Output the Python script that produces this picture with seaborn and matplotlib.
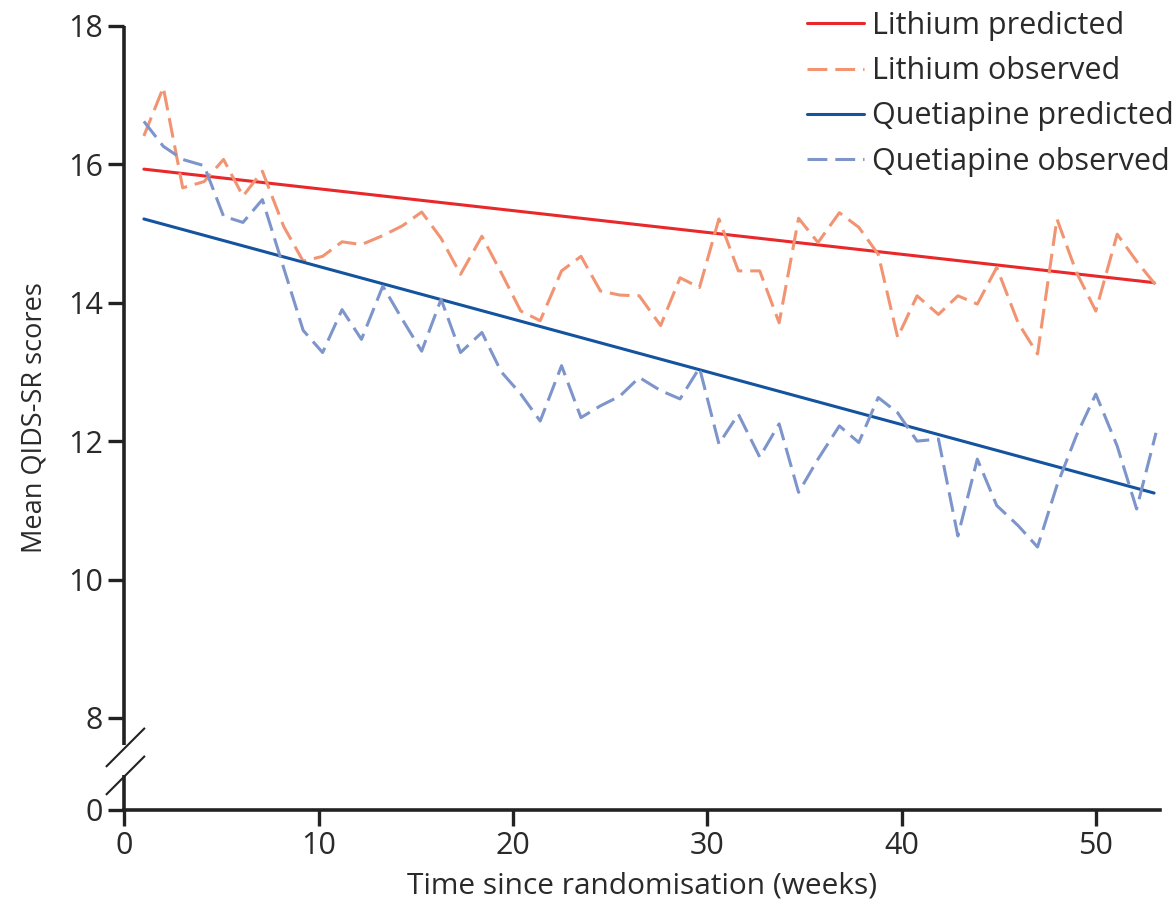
import numpy as np
import pandas as pd
import matplotlib
matplotlib.use("Agg")
import matplotlib.pyplot as plt
import seaborn as sns

# ---- data ----
time_weeks = [1.0, 2.0, 3.0, 4.1, 5.1, 6.1, 7.1, 8.2, 9.2, 10.2, 11.2, 12.2, 13.3,
              14.3, 15.3, 16.3, 17.3, 18.4, 19.4, 20.4, 21.4, 22.5, 23.5, 24.5, 25.5,
              26.5, 27.6, 28.6, 29.6, 30.6, 31.6, 32.7, 33.7, 34.7, 35.7, 36.8, 37.8,
              38.8, 39.8, 40.8, 41.9, 42.9, 43.9, 44.9, 46.0, 47.0, 48.0, 49.0, 50.0,
              51.1, 52.1, 53.1]
lithium_observed = [16.41, 17.11, 15.66, 15.75, 16.07, 15.54, 15.90, 15.10, 14.60, 14.67,
                    14.88, 14.84, 14.97, 15.11, 15.31, 14.93, 14.41, 14.96, 14.43, 13.88,
                    13.74, 14.46, 14.67, 14.17, 14.11, 14.10, 13.67, 14.36, 14.22, 15.21,
                    14.46, 14.46, 13.71, 15.22, 14.87, 15.30, 15.09, 14.70, 13.50, 14.10,
                    13.83, 14.10, 13.98, 14.51, 13.71, 13.26, 15.21, 14.44, 13.88, 14.99,
                    14.60, 14.25]
quetiapine_observed = [16.62, 16.26, 16.07, 15.98, 15.25, 15.16, 15.49, 14.50, 13.60, 13.28,
                       13.90, 13.47, 14.24, 13.76, 13.30, 14.05, 13.28, 13.57, 13.00, 12.68,
                       12.29, 13.09, 12.34, 12.51, 12.65, 12.92, 12.73, 12.61, 13.06, 11.96,
                       12.39, 11.77, 12.25, 11.26, 11.74, 12.22, 11.98, 12.63, 12.41, 12.00,
                       12.03, 10.63, 11.74, 11.07, 10.78, 10.47, 11.36, 12.08, 12.68, 11.93,
                       11.02, 12.12]
pred_weeks = [1.0, 53.0]
lithium_predicted = [15.93, 14.29]
quetiapine_predicted = [15.21, 11.25]

x_ticks = [0, 10, 20, 30, 40, 50]
y_ticks = [0, 8, 10, 12, 14, 16, 18]

labels = ["Lithium predicted", "Lithium observed",
          "Quetiapine predicted", "Quetiapine observed"]
colors = ["#e8282b", "#f29472", "#14539e", "#7d95cb"]

sns.set_style("ticks")
plt.rcParams["font.family"] = ["Open Sans", "DejaVu Sans"]

fig = plt.figure(figsize=(11.74, 9.11), dpi=100)
ax = fig.add_axes([0.106, 0.111, 0.882, 0.8606])

# broken y axis: values below 8 are compressed
SQ = 0.166
def fwd(y):
    y = np.asarray(y, dtype=float)
    return np.where(y >= 8, y, 8 - (8 - y) * SQ)
def inv(v):
    v = np.asarray(v, dtype=float)
    return np.where(v >= 8, v, 8 - (8 - v) / SQ)
ax.set_yscale("function", functions=(fwd, inv))

dash = (0, (6.5, 2.6))
sns.lineplot(x=pred_weeks, y=lithium_predicted, ax=ax, color=colors[0],
             linewidth=2.2, label=labels[0])
sns.lineplot(x=time_weeks[:len(lithium_observed)], y=lithium_observed, ax=ax,
             color=colors[1], linewidth=2.2, linestyle=dash, label=labels[1])
sns.lineplot(x=pred_weeks, y=quetiapine_predicted, ax=ax, color=colors[2],
             linewidth=2.2, label=labels[2])
sns.lineplot(x=time_weeks[:len(quetiapine_observed)], y=quetiapine_observed, ax=ax,
             color=colors[3], linewidth=2.2, linestyle=dash, label=labels[3])

ax.set_xlim(0, 53.3)
ax.set_ylim(0, 18)
ax.set_xticks(x_ticks)
ax.set_yticks(y_ticks)
ax.yaxis.set_minor_locator(matplotlib.ticker.NullLocator())
ax.tick_params(axis="both", direction="out", length=11.5, width=2.4,
               labelsize=22, colors="#222222", pad=4)
ax.tick_params(axis="both", labelcolor="#2a2a2a")

for s in ["top", "right"]:
    ax.spines[s].set_visible(False)
ax.spines["bottom"].set_linewidth(2.6)
ax.spines["bottom"].set_color("#222222")
ax.spines["left"].set_visible(False)

# left spine with a gap and break marks
kw = dict(transform=ax.transAxes, clip_on=False, color="#222222", solid_capstyle="butt")
ax.plot([0, 0], [0, 0.0446], linewidth=2.6, **kw)
ax.plot([0, 0], [0.0829, 1.0], linewidth=2.6, **kw)
ax.plot([-0.0179, 0.0198], [0.0548, 0.1046], linewidth=1.5, **kw)
ax.plot([-0.0179, 0.0198], [0.0191, 0.0689], linewidth=1.5, **kw)

ax.set_xlabel("Time since randomisation (weeks)", fontsize=21.5, color="#2a2a2a", labelpad=7)
ax.set_ylabel("Mean QIDS-SR scores", fontsize=19.5, color="#2a2a2a", labelpad=14)

leg = ax.legend(loc="upper right", bbox_to_anchor=(1.0, 0.988),
                bbox_transform=fig.transFigure,
                frameon=False, fontsize=22, handlelength=1.86, handletextpad=0.28,
                labelspacing=0.5, borderaxespad=0.0, borderpad=0.0)
for t in leg.get_texts():
    t.set_color("#2a2a2a")

fig.savefig("out.png", dpi=100)
